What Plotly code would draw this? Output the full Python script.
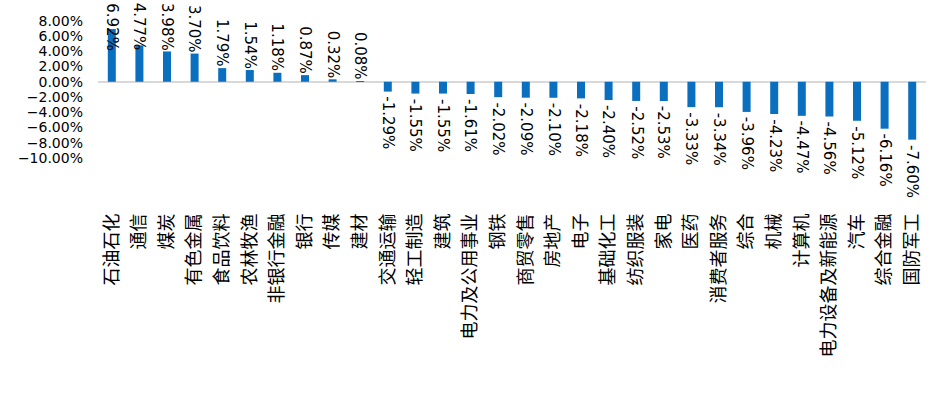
import plotly.graph_objects as go

categories = ["石油石化", "通信", "煤炭", "有色金属", "食品饮料", "农林牧渔", "非银行金融", "银行", "传媒", "建材",
              "交通运输", "轻工制造", "建筑", "电力及公用事业", "钢铁", "商贸零售", "房地产", "电子", "基础化工", "纺织服装",
              "家电", "医药", "消费者服务", "综合", "机械", "计算机", "电力设备及新能源", "汽车", "综合金融", "国防军工"]
values = [6.92, 4.77, 3.98, 3.70, 1.79, 1.54, 1.18, 0.87, 0.32, 0.08,
          -1.29, -1.55, -1.55, -1.61, -2.02, -2.09, -2.10, -2.18, -2.40, -2.52,
          -2.53, -3.33, -3.34, -3.96, -4.23, -4.47, -4.56, -5.12, -6.16, -7.60]
tick_vals = [0.08, 0.06, 0.04, 0.02, 0.0, -0.02, -0.04, -0.06, -0.08, -0.10]

LABEL_CAP = 0.039  # labels pushed down to stay inside the chart, as in the source

vals = [v / 100 for v in values]

fig = go.Figure(go.Bar(
    x=categories, y=vals,
    marker=dict(color="#0a6fbf", line=dict(width=0)),
    hoverinfo="skip",
))

for c, v in zip(categories, vals):
    pos = v >= 0
    fig.add_annotation(
        x=c, y=min(v, LABEL_CAP) if pos else v,
        text=f"{v * 100:.2f}%", textangle=90, showarrow=False,
        xanchor="center", yanchor="bottom" if pos else "top",
        yshift=0 if pos else -4, borderpad=0,
        font=dict(family="DejaVu Sans", size=15, color="black"),
    )

fig.update_layout(
    width=949, height=399,
    margin=dict(l=98, r=23, t=17, b=190),
    plot_bgcolor="white", paper_bgcolor="white",
    bargap=0.71, showlegend=False,
    font=dict(family="DejaVu Sans", color="black"),
)
fig.update_yaxes(
    range=[-0.167, 0.085], tickvals=tick_vals, tickformat=".2%",
    showgrid=False, showline=False, ticks="",
    zeroline=True, zerolinecolor="#d9d9d9", zerolinewidth=2,
    tickfont=dict(family="DejaVu Sans", size=14, color="black"),
    ticklabelstandoff=14,
)
fig.update_xaxes(
    tickangle=-90, showgrid=False, showline=False, ticks="",
    tickfont=dict(family="Noto Sans CJK SC", size=18, color="black"),
)

fig.write_html("out.html", config={"displayModeBar": False},
               post_script="document.body.style.margin='0';")
